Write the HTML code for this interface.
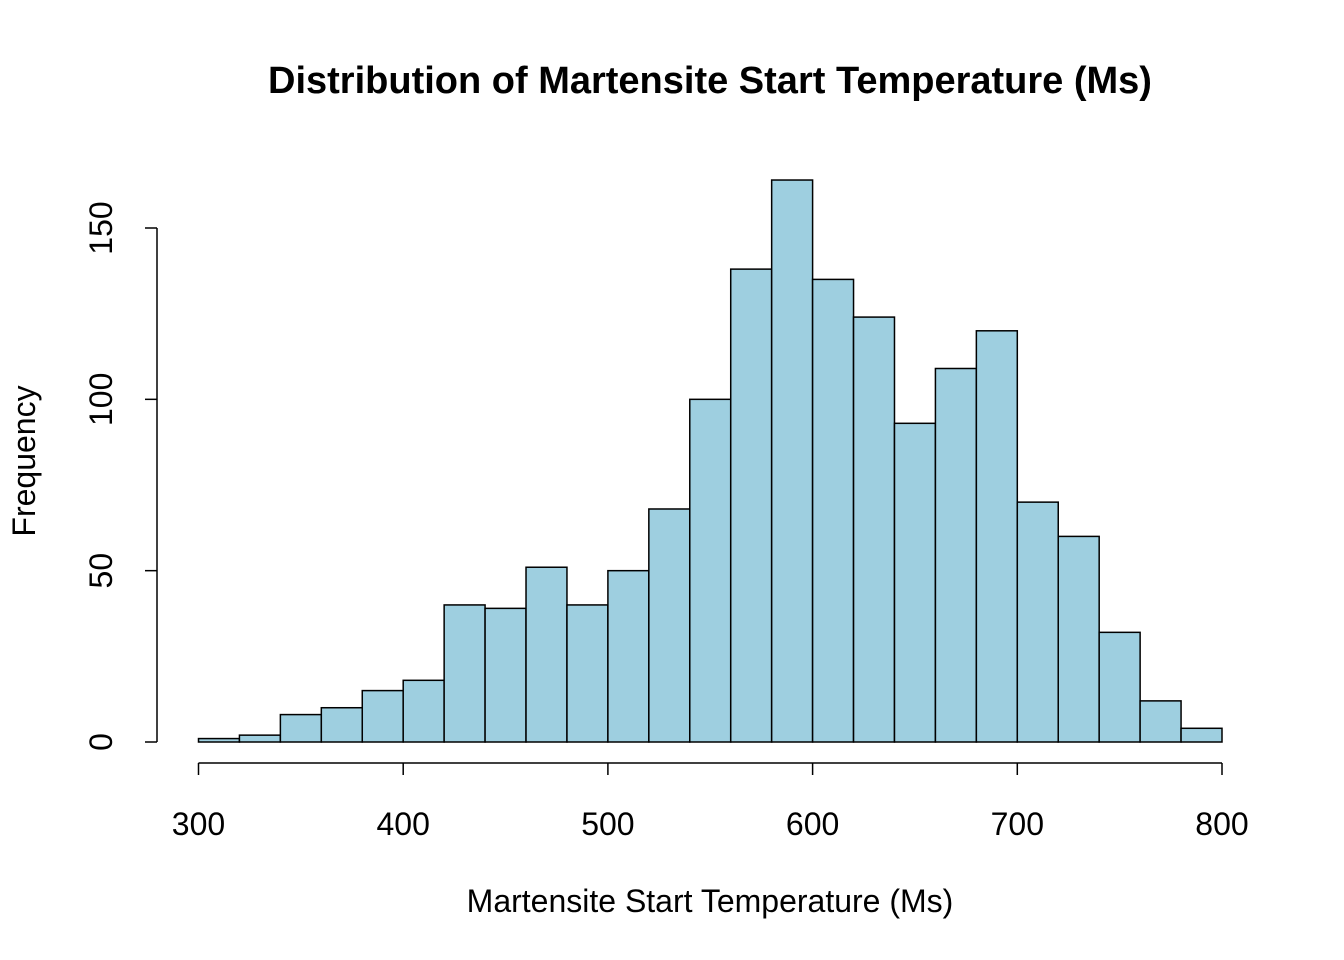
<!DOCTYPE html>
<html><head><meta charset="utf-8"><style>
html,body{margin:0;padding:0;background:#fff;}
svg{display:block;font-family:"Liberation Sans",Arial,sans-serif;}
</style></head><body>
<svg id="chart" width="1344" height="960" viewBox="0 0 1344 960">
<text x="710" y="93" text-anchor="middle" font-size="38" font-weight="bold">Distribution of Martensite Start Temperature (Ms)</text>
<text x="710" y="912" text-anchor="middle" font-size="32">Martensite Start Temperature (Ms)</text>
<text transform="translate(35,461) rotate(-90)" text-anchor="middle" font-size="32">Frequency</text>
<g id="bars"></g>
<g id="xaxis"></g>
<g id="yaxis"></g>
</svg>
<script>
const binStarts = [300,320,340,360,380,400,420,440,460,480,500,520,540,560,580,600,620,640,660,680,700,720,740,760,780];
const counts = [1,2,8,10,15,18,40,39,51,40,50,68,100,138,164,135,124,93,109,120,70,60,32,12,4];
const binWidth = 20;
const xTicks = [300,400,500,600,700,800];
const yTicks = [0,50,100,150];

const NS = "http://www.w3.org/2000/svg";
function xs(v){ return 198.5 + (v - 300) * (1222 - 198.5) / 500; }
function ys(v){ return 742 - v * (742 - 228) / 150; }
function mk(tag, attrs, parent){
  const e = document.createElementNS(NS, tag);
  for (const k in attrs) e.setAttribute(k, attrs[k]);
  parent.appendChild(e);
  return e;
}
const bars = document.getElementById('bars');
binStarts.forEach((b, i) => {
  const x0 = xs(b), x1 = xs(b + binWidth), y = ys(counts[i]);
  const r = mk('rect', {x: x0, y: y, width: x1 - x0, height: ys(0) - y, fill: '#9ECFE0', stroke: '#000', 'stroke-width': 1.5}, bars);
  
  
});
const xa = document.getElementById('xaxis');
mk('line', {x1: xs(xTicks[0]), x2: xs(xTicks[xTicks.length-1]), y1: 763, y2: 763, stroke: '#000', 'stroke-width': 1.5}, xa);
xTicks.forEach(t => {
  mk('line', {x1: xs(t), x2: xs(t), y1: 763, y2: 775, stroke: '#000', 'stroke-width': 1.5}, xa);
  const tx = mk('text', {x: xs(t), y: 835, 'text-anchor': 'middle', 'font-size': 32}, xa);
  tx.textContent = t;
  
  
});
const ya = document.getElementById('yaxis');
mk('line', {x1: 157, x2: 157, y1: ys(yTicks[0]), y2: ys(yTicks[yTicks.length-1]), stroke: '#000', 'stroke-width': 1.5}, ya);
yTicks.forEach(t => {
  mk('line', {x1: 145, x2: 157, y1: ys(t), y2: ys(t), stroke: '#000', 'stroke-width': 1.5}, ya);
  const tx = mk('text', {transform: 'translate(112,' + ys(t) + ') rotate(-90)', 'text-anchor': 'middle', 'font-size': 32}, ya);
  tx.textContent = t;
  
  
});
</script>
</body></html>
